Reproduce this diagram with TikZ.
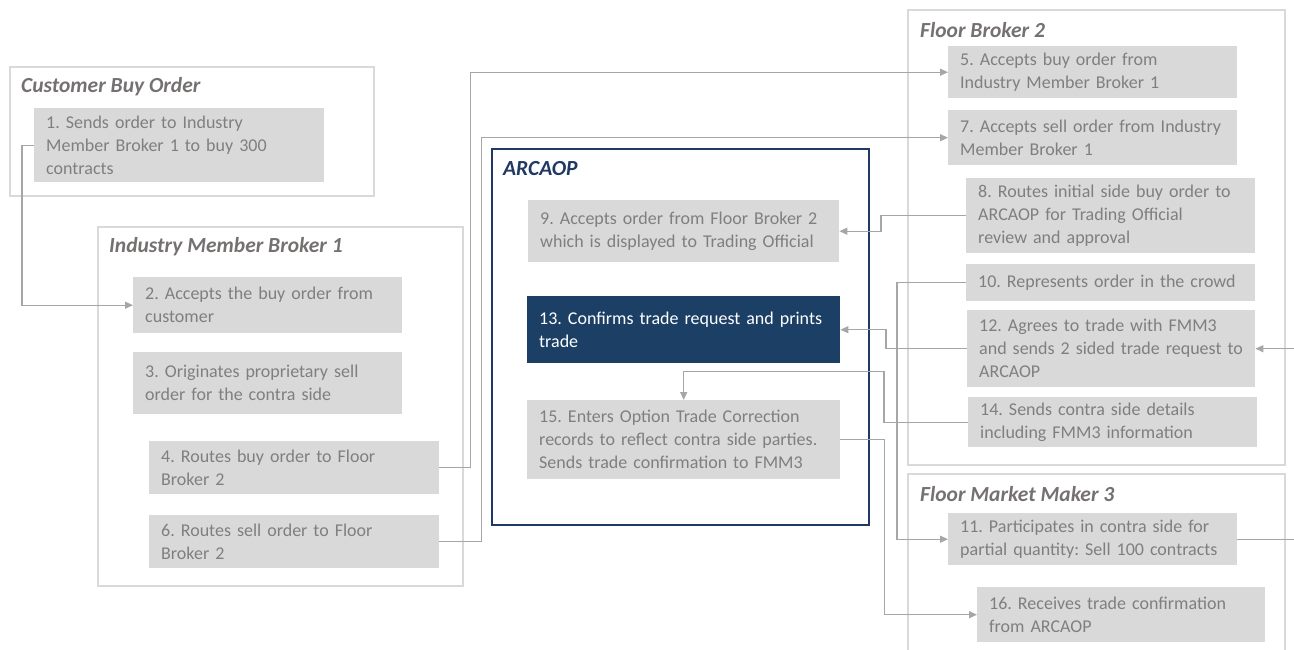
\documentclass[tikz,border=0pt]{standalone}
\usepackage{fontspec}
\setmainfont{Carlito}
\usetikzlibrary{arrows.meta}
\definecolor{boxgray}{HTML}{D9D9D9}
\definecolor{textgray}{HTML}{7F7F7F}
\definecolor{titlegray}{HTML}{767171}
\definecolor{linegray}{HTML}{A6A6A6}
\definecolor{arcablue}{HTML}{203864}
\definecolor{tradeblue}{HTML}{1C3F66}
\newcommand{\stepfont}{\fontsize{18}{23}\selectfont}
\newcommand{\groupfont}{\fontsize{21.5}{24}\selectfont\bfseries\itshape}
\frenchspacing
\tikzset{
  stepbox/.style 2 args={fill=boxgray, text=textgray, font=\stepfont,
    anchor=north west, align=left, inner xsep=0pt, inner ysep=2pt,
    text width=#1pt, minimum height=#2pt,
    execute at begin node={\leftskip=12pt}},
  tradebox/.style 2 args={stepbox={#1}{#2}, fill=tradeblue, text=white},
}
\begin{document}
\begin{tikzpicture}[x=1pt,y=-1pt,
        grouptitle/.style={anchor=west, inner sep=0pt, font=\groupfont, text=titlegray},
        groupframe/.style={draw=boxgray, line width=2pt},
        conn/.style={draw=linegray, line width=1.3pt, -{Triangle[length=8pt,width=7pt]}}]
  \useasboundingbox (0,0) rectangle (1294,649);
  % frames of the parties
  \draw[groupframe] (10,67) rectangle (374,196);
  \draw[groupframe] (98,227) rectangle (463,586);
  \draw[groupframe] (908,10) rectangle (1285,465);
  \draw[groupframe] (908,474) rectangle (1285,670);
  \draw[draw=arcablue, line width=2pt] (492,149) rectangle (869,525);
  \node[grouptitle] (tcust) at (21,87) {Customer Buy Order};
  \node[grouptitle] (timb) at (109,247) {Industry Member Broker 1};
  \node[grouptitle, text=arcablue] (tarca) at (503,169) {ARCAOP};
  \node[grouptitle] (tfb) at (920,30) {Floor Broker 2};
  \node[grouptitle] (tfmm) at (920,494) {Floor Market Maker 3};
  % steps
  \node[stepbox={290}{74}] (s1) at (34,108) {1. Sends order to Industry\\Member Broker 1 to buy 300\\contracts};
  \node[stepbox={269}{56}] (s2) at (133,277) {2. Accepts the buy order from\\customer};
  \node[stepbox={269}{62}] (s3) at (133,352) {3. Originates proprietary sell\\order for the contra side};
  \node[stepbox={290}{53}] (s4) at (149,441) {4. Routes buy order to Floor\\Broker 2};
  \node[stepbox={290}{53}] (s6) at (149,515) {6. Routes sell order to Floor\\Broker 2};
  \node[stepbox={289}{52}] (s5) at (948,46) {5. Accepts buy order from\\Industry Member Broker 1};
  \node[stepbox={289}{55}] (s7) at (948,110) {7. Accepts sell order from Industry\\Member Broker 1};
  \node[stepbox={289}{75}] (s8) at (966,178) {8. Routes initial side buy order to\\ARCAOP for Trading Official\\review and approval};
  \node[stepbox={311}{62}] (s9) at (528,200) {9. Accepts order from Floor Broker 2\\which is displayed to Trading Official};
  \node[stepbox={289}{37}] (s10) at (966,264) {10. Represents order in the crowd};
  \node[stepbox={288}{77}] (s12) at (967,310) {12. Agrees to trade with FMM3\\and sends 2 sided trade request to\\ARCAOP};
  \node[stepbox={289}{50}] (s14) at (968,397) {14. Sends contra side details\\including FMM3 information};
  \node[tradebox={313}{67}] (s13) at (527,296) {13. Confirms trade request and prints\\trade};
  \node[stepbox={313}{79}] (s15) at (527,400) {15. Enters Option Trade Correction\\records to reflect contra side parties.\\Sends trade confirmation to FMM3};
  \node[stepbox={289}{52}] (s11) at (948,513) {11. Participates in contra side for\\partial quantity: Sell 100 contracts};
  \node[stepbox={288}{55}] (s16) at (977,587) {16. Receives trade confirmation\\from ARCAOP};
  % flow
  \draw[conn] (s1.west) -- ++(-12,0) |- (s2.west);
  \draw[conn] (s4.east) -- ++(31,0) |- (s5.west);
  \draw[conn] (s6.east) -- ++(42,0) |- (s7.west);
  \draw[conn] (s8.west) -- ++(-85,0) |- (s9.east);
  \draw[conn] (s10.west) -- ++(-69,0) |- (s11.west);
  \draw[conn] (s12.west) -- ++(-81,0) |- (s13.east);
  \draw[conn] (s11.east) -- ++(70,0) |- (s12.east);
  \draw[conn] (s14.west) -- ++(-84,0) -- ++(0,-51) -| (s15.north);
  \draw[conn] (s15.east) -- ++(44,0) |- (s16.west);
\end{tikzpicture}
\end{document}
